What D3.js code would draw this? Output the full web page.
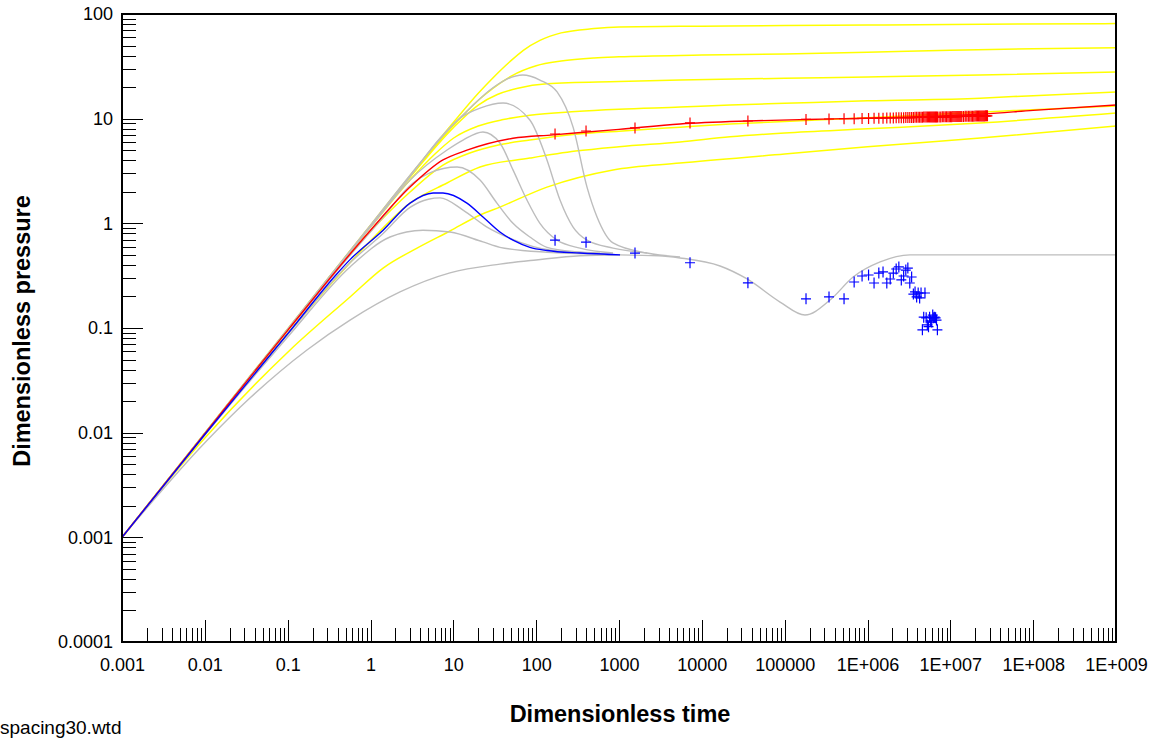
<!DOCTYPE html>
<html>
<head>
<meta charset="utf-8">
<script src="https://cdn.jsdelivr.net/npm/d3@7"></script>
<style>
  body { margin: 0; background: #fff; }
  svg { display: block; font-family: "Liberation Sans", Arial, sans-serif; }
</style>
</head>
<body>
<svg id="chart" width="1161" height="738"></svg>
<script>
// tick labels
var xTickLabels = ["0.001", "0.01", "0.1", "1", "10", "100", "1000", "10000", "100000", "1E+006", "1E+007", "1E+008", "1E+009"];
var yTickLabels = ["0.0001", "0.001", "0.01", "0.1", "1", "10", "100"];

// type curves - pressure (yellow), [time, value]
var yellow1 = [[0.001,0.001],[0.01,0.0099],[0.1,0.098],[1,0.96],[3,2.85],[10,9.2],[20,17.5],[30,24.5],[48,35],[70,45],[111,56],[200,66],[500,72.5],[1000,75],[1e4,76.5],[1e5,77.5],[1e6,78.5],[1e7,79.5],[1e9,81]];
var yellow2 = [[0.001,0.001],[0.01,0.0099],[0.1,0.097],[1,0.95],[3,2.8],[10,8.6],[20,15],[30,19.5],[50,25.5],[100,32],[200,35.5],[500,38],[1000,39],[1e4,40.5],[1e5,41.5],[1e6,43],[1e7,45],[1e8,46.5],[1e9,47.5]];
var yellow3 = [[0.001,0.001],[0.01,0.0099],[0.1,0.097],[1,0.94],[3,2.75],[10,8.2],[20,13.5],[34,17],[60,19.5],[135,21.5],[1000,22.6],[5460,23.4],[1e5,24.3],[1e6,25],[2.3e7,26.1],[1e9,27.9]];
var yellow4 = [[0.001,0.001],[0.01,0.0098],[0.1,0.096],[1,0.92],[3,2.6],[6,4.6],[10,6.5],[20,8.5],[40,9.8],[84,10.8],[300,11.7],[1000,12.3],[5460,12.9],[21900,13.5],[1e5,14],[1e6,14.8],[2.3e7,15.7],[1e8,16.6],[1e9,18]];
var yellow5 = [[0.001,0.001],[0.01,0.0098],[0.1,0.094],[1,0.84],[3,1.99],[7.5,3.6],[15.8,4.7],[35,5.6],[84,6.25],[300,7.1],[1000,7.6],[5460,8.3],[21900,8.9],[1e5,9.4],[1e6,10.2],[4e7,11.8],[1e9,13.2]];
var yellow6 = [[0.001,0.001],[0.01,0.0097],[0.1,0.088],[0.3,0.24],[1,0.68],[3,1.56],[8.4,2.43],[21,3.45],[84,4.2],[300,4.9],[1000,5.4],[5460,6.0],[21900,6.7],[1e5,7.3],[1e6,8.0],[2.3e7,9.1],[1e9,11.3]];
var yellow7 = [[0.001,0.001],[0.01,0.0089],[0.107,0.0617],[0.566,0.198],[1.42,0.374],[3.65,0.58],[9.1,0.845],[21,1.2],[36.5,1.43],[135,2.22],[847,3.24],[5460,3.77],[1e5,4.6],[1e6,5.4],[2.3e7,6.53],[1e9,8.5]];

// type curves - derivative (grey)
var grey1 = [[0.001,0.001],[0.01,0.0099],[0.1,0.098],[1,0.96],[3.96,3.77],[9.1,8.15],[15.9,12.6],[27.7,18.8],[42,23.4],[69,26.1],[111,23.4],[179,18],[279,8.3],[411,2.22],[543,1.15],[847,0.65],[2180,0.52],[5460,0.477]];
var grey2 = [[0.001,0.001],[0.01,0.0099],[0.1,0.097],[1,0.95],[3,2.8],[6.9,6.5],[12,10.1],[21,12.6],[39.8,14.1],[84,9.7],[135,4.03],[194,1.67],[279,0.92],[411,0.69],[847,0.58],[2180,0.52]];
var grey3 = [[0.001,0.001],[0.01,0.0098],[0.1,0.096],[1,0.92],[3,2.6],[8.4,5.02],[13.1,6.25],[22.8,7.46],[36.5,5.86],[52.5,3.24],[77.4,1.67],[111,1.0],[179,0.69],[338,0.58],[847,0.52]];
var grey4 = [[0.001,0.001],[0.01,0.0098],[0.1,0.095],[0.5,0.44],[1.3,1.05],[3.26,2.43],[5.2,3.03],[11.1,3.45],[21,2.59],[33.6,1.56],[52.5,1.0],[84,0.74],[135,0.59],[338,0.53],[1000,0.5]];
var grey5 = [[0.001,0.001],[0.01,0.0096],[0.1,0.087],[0.566,0.42],[1.42,0.8],[3,1.42],[5,1.7],[6.9,1.75],[13.1,1.34],[25.5,0.92],[44.5,0.74],[160,0.55],[590,0.52]];
var grey6 = [[0.001,0.001],[0.01,0.0095],[0.1,0.082],[0.566,0.383],[1.72,0.74],[4.3,0.86],[9.1,0.826],[22.8,0.664],[36.5,0.59],[135,0.53],[590,0.51]];
var grey7 = [[0.001,0.001],[0.01,0.008],[0.035,0.0214],[0.171,0.0617],[0.566,0.119],[2.27,0.221],[9.1,0.336],[36.5,0.408],[99.6,0.447],[338,0.49],[1030,0.5]];
var greyTail = [[1000,0.5],[3000,0.49],[5460,0.467],[16600,0.391],[35200,0.294],[88000,0.177],[176000,0.133],[353000,0.185],[670000,0.307],[1.42e6,0.428],[3.26e6,0.5],[1e7,0.5],[1e9,0.5]];

// matched curves
var redCurve = [[0.001,0.001],[0.01,0.0098],[0.1,0.095],[1,0.86],[3,2.22],[7.5,4.03],[14.6,5.0],[52.5,6.5],[160,7.0],[1000,7.9],[5460,8.9],[36000,9.5],[181000,9.83],[1e6,10.1],[2.6e7,11.1],[1e8,12],[1e9,13.5]];
var blueCurve = [[0.001,0.001],[0.01,0.0096],[0.1,0.088],[0.394,0.33],[0.566,0.45],[1.42,0.86],[3.0,1.56],[5.7,1.95],[7.5,1.95],[14.6,1.56],[22.8,1.15],[36.5,0.826],[52.5,0.69],[84,0.59],[135,0.55],[338,0.52],[1030,0.5]];

// measured data
var dataTimes = [169, 400, 1560, 7200, 36000, 181000, 343000, 521000,
  690000, 860000, 1030000, 1200000, 1370000, 1540000, 1710000, 1880000, 2050000, 2220000,
  2390000, 2560000, 2730000, 2900000, 3070000, 3240000, 3410000, 3580000, 3750000, 3920000,
  4090000, 4260000, 4430000, 4600000, 4770000, 4940000, 5110000, 5280000, 5450000, 5620000,
  5790000, 5960000, 6130000, 6300000, 6470000, 6640000, 6810000, 6980000];
var lateTimes = [7.32e6, 7.66e6, 8.0e6, 8.34e6, 8.68e6, 9.02e6, 9.36e6, 9.7e6, 10.04e6, 10.38e6,
  10.72e6, 11.06e6, 11.4e6, 11.74e6, 12.08e6, 12.42e6, 12.76e6, 13.1e6, 13.44e6, 13.78e6,
  14.46e6, 15.14e6, 15.82e6, 16.5e6, 17.18e6, 17.86e6, 18.54e6, 19.22e6, 19.9e6, 20.58e6,
  21.26e6, 21.94e6, 22.62e6, 23.3e6, 23.98e6, 24.66e6, 25.34e6, 26.02e6, 26.7e6, 27.38e6, 28.06e6];
var pressureValues = [7.14, 7.62, 8.15, 9.1, 9.5, 9.83, 9.93, 10.0,
  10.0, 10.05, 10.05, 10.1, 10.1, 10.1, 10.15, 10.15, 10.15, 10.2,
  10.2, 10.2, 10.2, 10.25, 10.25, 10.25, 10.25, 10.25, 10.3, 10.3,
  10.3, 10.3, 10.3, 10.3, 10.35, 10.35, 10.35, 10.35, 10.35, 10.35,
  10.4, 10.4, 10.4, 10.4, 10.4, 10.4, 10.4, 10.4,
  10.4, 10.4, 10.42, 10.42, 10.42, 10.44, 10.44, 10.44, 10.45, 10.45,
  10.46, 10.46, 10.47, 10.47, 10.48, 10.48, 10.49, 10.49, 10.5, 10.5,
  10.51, 10.52, 10.53, 10.54, 10.55, 10.55, 10.56, 10.57, 10.58, 10.58,
  10.59, 10.6, 10.6, 10.61, 10.62, 10.62, 10.63, 10.63, 10.64, 10.64, 10.65];
var derivativeValues = [0.69, 0.66, 0.52, 0.42, 0.27, 0.19, 0.198, 0.19,
  0.275, 0.314, 0.321, 0.269, 0.335, 0.343, 0.269, 0.294, 0.335, 0.366,
  0.383, 0.288, 0.314, 0.358, 0.374, 0.269, 0.307, 0.211, 0.221, 0.198,
  0.216, 0.194, 0.216, 0.096, 0.127, 0.216, 0.125, 0.107, 0.103, 0.127,
  0.117, 0.114, 0.133, 0.125, 0.127, 0.125, 0.119, 0.096];

var svg = d3.select("#chart");
var pLeft = 122, pRight = 1116, pTop = 14, pBottom = 642;

var x = d3.scaleLog().domain([1e-3, 1e9]).range([pLeft, pRight]);
var y = d3.scaleLog().domain([1e-4, 100]).range([pBottom, pTop]);

svg.append("defs").append("clipPath").attr("id", "plotclip")
    .append("rect").attr("x", pLeft).attr("y", pTop).attr("width", pRight - pLeft).attr("height", pBottom - pTop);

// ticks
var xAll = x.ticks(60), yAll = y.ticks(60);
var isPow = function (v) { var l = Math.log10(v); return Math.abs(l - Math.round(l)) < 1e-9; };
var xMajor = xAll.filter(isPow), xMinor = xAll.filter(function (v) { return !isPow(v); });
var yMajor = yAll.filter(isPow), yMinor = yAll.filter(function (v) { return !isPow(v); });

var gx = svg.append("g").attr("transform", "translate(0," + pBottom + ")");
gx.call(d3.axisBottom(x).tickValues(xMinor).tickSize(-14).tickFormat(""));
gx.append("g").call(d3.axisBottom(x).tickValues(xMajor).tickSize(-22).tickPadding(16)
    .tickFormat(function (d, i) { return xTickLabels[i]; }));
var gy = svg.append("g").attr("transform", "translate(" + pLeft + ",0)");
gy.call(d3.axisLeft(y).tickValues(yMinor).tickSize(-14).tickFormat(""));
gy.append("g").call(d3.axisLeft(y).tickValues(yMajor).tickSize(-21).tickPadding(9)
    .tickFormat(function (d, i) { return yTickLabels[i]; }));
svg.selectAll(".domain").remove();
svg.selectAll(".tick line").attr("stroke", "#000").attr("shape-rendering", "crispEdges");
svg.selectAll(".tick text").attr("font-size", 18).attr("fill", "#000")
    .attr("font-family", "Liberation Sans, Arial, sans-serif");

// curves
var line = d3.line()
    .x(function (d) { return x(d[0]); })
    .y(function (d) { return y(d[1]); })
    .curve(d3.curveMonotoneX);

var plot = svg.append("g").attr("clip-path", "url(#plotclip)");

[yellow1, yellow2, yellow3, yellow4, yellow5, yellow6, yellow7].forEach(function (c) {
    plot.append("path").datum(c).attr("d", line)
        .attr("fill", "none").attr("stroke", "#ffff00").attr("stroke-width", 1.5);
});
[grey1, grey2, grey3, grey4, grey5, grey6, grey7, greyTail].forEach(function (c) {
    plot.append("path").datum(c).attr("d", line)
        .attr("fill", "none").attr("stroke", "#bdbdbd").attr("stroke-width", 1.4);
});
plot.append("path").datum(redCurve).attr("d", line)
    .attr("fill", "none").attr("stroke", "#ff0000").attr("stroke-width", 1.4);
plot.append("path").datum(blueCurve).attr("d", line)
    .attr("fill", "none").attr("stroke", "#0000ff").attr("stroke-width", 1.4);

// data markers
var plus = "M-5,0H5M0,-5.5V5.5";
var pressTimes = dataTimes.concat(lateTimes);
plot.selectAll(".pmark").data(pressTimes).enter().append("path")
    .attr("class", "pmark")
    .attr("transform", function (d, i) { return "translate(" + x(d) + "," + y(pressureValues[i]) + ")"; })
    .attr("d", plus).attr("stroke", "#ff0000").attr("stroke-width", 1.2).attr("fill", "none");
plot.selectAll(".dmark").data(dataTimes).enter().append("path")
    .attr("class", "dmark")
    .attr("transform", function (d, i) { return "translate(" + x(d) + "," + y(derivativeValues[i]) + ")"; })
    .attr("d", plus).attr("stroke", "#0000ff").attr("stroke-width", 1.2).attr("fill", "none");

// frame
svg.append("rect").attr("x", pLeft).attr("y", pTop).attr("width", pRight - pLeft).attr("height", pBottom - pTop)
    .attr("fill", "none").attr("stroke", "#000").attr("stroke-width", 2);

// labels
svg.append("text").attr("x", 620).attr("y", 722).attr("text-anchor", "middle")
    .attr("font-size", 23.5).attr("font-weight", "bold").text("Dimensionless time");
svg.append("text").attr("transform", "translate(30,331) rotate(-90)").attr("text-anchor", "middle")
    .attr("font-size", 23.5).attr("font-weight", "bold").text("Dimensionless pressure");
svg.append("text").attr("x", 0).attr("y", 734).attr("font-size", 19).text("spacing30.wtd");
</script>
</body>
</html>
